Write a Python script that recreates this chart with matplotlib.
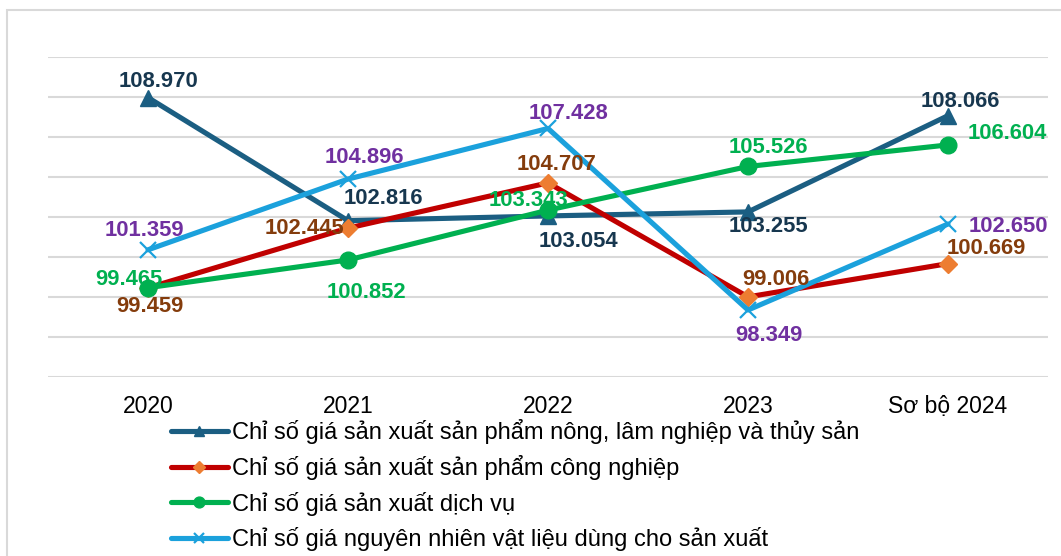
import matplotlib
matplotlib.use("Agg")
import matplotlib.pyplot as plt
from matplotlib.patches import Rectangle

plt.rcParams['font.family'] = ['Liberation Sans', 'DejaVu Sans']

categories = ["2020", "2021", "2022", "2023", "Sơ bộ 2024"]
series_names = [
    "Chỉ số giá sản xuất sản phẩm nông, lâm nghiệp và thủy sản",
    "Chỉ số giá sản xuất sản phẩm công nghiệp",
    "Chỉ số giá sản xuất dịch vụ",
    "Chỉ số giá nguyên nhiên vật liệu dùng cho sản xuất",
]
agri = [108.970, 102.816, 103.054, 103.255, 108.066]
industry = [99.459, 102.445, 104.707, 99.006, 100.669]
services = [99.465, 100.852, 103.343, 105.526, 106.604]
materials = [101.359, 104.896, 107.428, 98.349, 102.650]

values = [agri, industry, services, materials]
line_colors = ["#1B5E82", "#C00000", "#00B050", "#1BA1DC"]
marker_face = ["#1B5E82", "#ED7D31", "#00B050", "#1BA1DC"]
markers = ["^", "D", "o", "x"]
marker_sizes = [12, 9, 12, 12]
label_colors = ["#17374F", "#843C0C", "#00B050", "#7030A0"]
# label offsets in pixels (dx, dy) relative to the point
offsets = [
    [(10, 16), (35, 22), (30, -26), (20, -15), (12, 14)],
    [(2, -19), (-44, 0), (9, 18), (28, 17), (38, 15)],
    [(-19, 8), (18, -33), (-20, 10), (20, 19), (59, 11)],
    [(-4, 19), (16, 22), (20, 15), (21, -25), (60, -3)],
]

fig = plt.figure(figsize=(10.61, 5.56), dpi=100)
W, H = 1061, 556
ax = fig.add_axes([48 / W, 1 - 377 / H, 1000 / W, 320 / H])

x = list(range(len(categories)))
for i, vals in enumerate(values):
    mk = markers[i]
    kw = dict(color=line_colors[i], lw=3.7, marker=mk, markersize=marker_sizes[i],
              markerfacecolor=marker_face[i], markeredgecolor=marker_face[i],
              solid_capstyle='round', label=series_names[i], zorder=3 + i)
    if mk == 'x':
        kw['markeredgewidth'] = 1.6
    ax.plot(x, vals, **kw)
    for j, v in enumerate(vals):
        dx, dy = offsets[i][j]
        ax.annotate(f"{v:.3f}", (j, v), xytext=(dx, dy), textcoords='offset pixels',
                    ha='center', va='center', fontsize=15.8, fontweight='bold',
                    color=label_colors[i], zorder=10)

ax.set_xlim(-0.5, 4.5)
ax.set_ylim(95, 111)
ax.set_yticks([95 + 2 * k for k in range(9)])
ax.yaxis.grid(True, color='#D9D9D9', lw=1.5)
ax.set_axisbelow(True)
ax.tick_params(axis='y', left=False, labelleft=False)
ax.tick_params(axis='x', length=0, pad=13, labelsize=16.5)
ax.set_xticks(x)
ax.set_xticklabels(categories)
for s in ax.spines.values():
    s.set_visible(False)

leg = fig.legend(loc='upper left', bbox_to_anchor=(171 / W, 1 - 419 / H),
                 frameon=False, fontsize=17, handlelength=2.4, handletextpad=0.2,
                 labelspacing=0.48, borderpad=0, borderaxespad=0, markerscale=0.65)

fig.patches.append(Rectangle((7 / W, -0.5), 2, 1.5 - 10 / H, transform=fig.transFigure,
                             fill=False, edgecolor='#D9D9D9', lw=1.5, figure=fig))

fig.savefig("out.png", dpi=100)
